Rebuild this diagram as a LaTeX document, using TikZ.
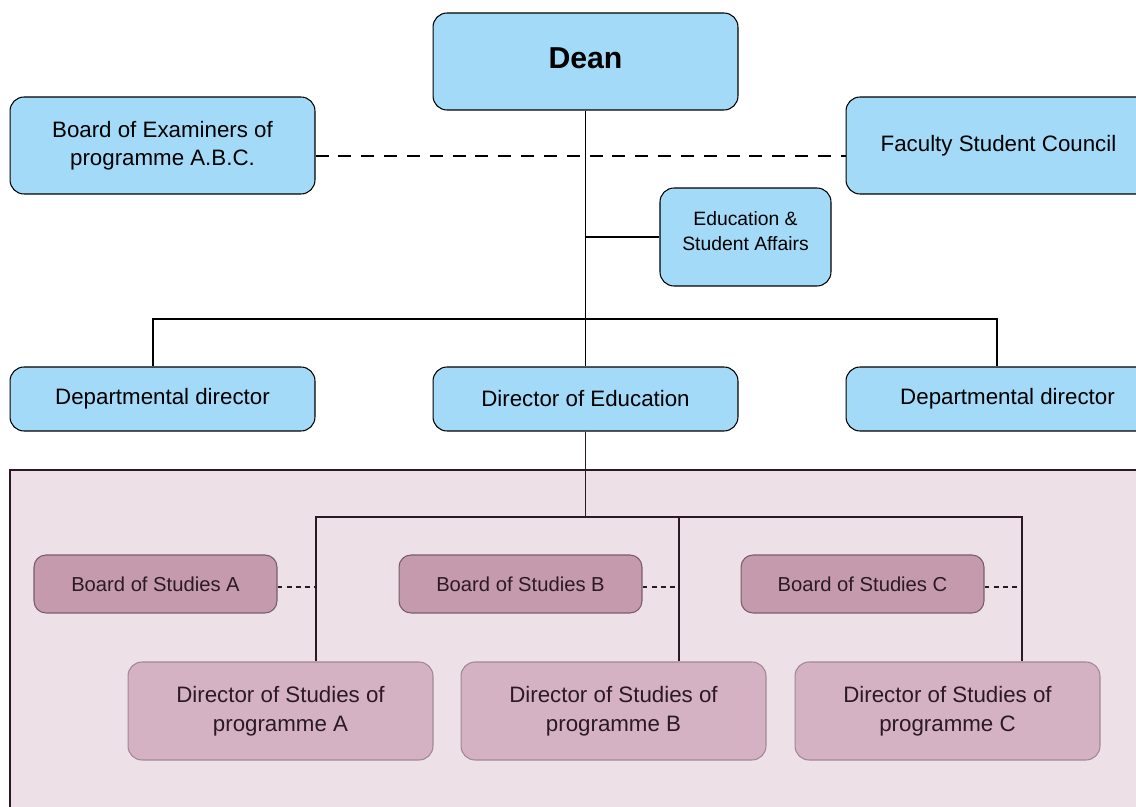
\documentclass[tikz,border=0pt]{standalone}
\usepackage{fontspec}
\setmainfont{Liberation Sans}
\usepackage{tikz}
\usetikzlibrary{positioning, calc}
\definecolor{boxblue}{RGB}{163,218,247}
\definecolor{areapink}{RGB}{238,224,231}
\definecolor{boardmauve}{RGB}{197,154,172}
\definecolor{dirmauve}{RGB}{212,177,195}
\definecolor{inkdark}{RGB}{43,26,36}
\definecolor{dirline}{RGB}{160,136,148}
\definecolor{boardline}{RGB}{120,92,106}

\begin{document}
\begin{tikzpicture}[x=0.02cm, y=-0.02cm, line width=0.6pt,
  every node/.style={align=center},
  bluebox/.style={draw, fill=boxblue, rounded corners=0.28cm, minimum width=6.1cm, minimum height=1.94cm,
    font=\fontsize{12.7}{16}\selectfont},
  boardbox/.style={draw=boardline, fill=boardmauve, rounded corners=0.24cm, minimum width=4.86cm, minimum height=1.16cm,
    text=inkdark, font=\fontsize{11.5}{14}\selectfont},
  dirbox/.style={draw=dirline, fill=dirmauve, rounded corners=0.28cm, minimum width=6.1cm, minimum height=1.96cm,
    text=inkdark, font=\fontsize{12.7}{16.5}\selectfont},
  longdash/.style={dash pattern=on 7.4pt off 5.6pt},
  shortdash/.style={dash pattern=on 2.8pt off 2.4pt}]
  \useasboundingbox (0,0) rectangle (1136,807);
  \clip (0,0) rectangle (1136,807);

  % programme area
  \draw[fill=areapink, draw=inkdark] (10,470) rectangle (1180,850);

  % faculty level
  \node[bluebox, text depth=0.12cm, font=\fontsize{17.2}{20}\selectfont\bfseries] (dean) at (585.5,61.5) {Dean};
  \node[bluebox] (boe) at (162.5,145.5) {Board of Examiners of\\programme A.B.C.};
  \node[bluebox] (fsc) at (998.5,145.5) {Faculty Student Council};
  \node[bluebox, minimum width=3.42cm, minimum height=1.96cm, text depth=0.24cm, font=\fontsize{11}{14}\selectfont]
    (esa) at (745.5,237) {Education \&\\Student Affairs};
  \node[bluebox, minimum height=1.28cm] (ddl) at (162.5,399) {Departmental director};
  \node[bluebox, minimum height=1.28cm] (doe) at (585.5,399) {Director of Education};
  \node[bluebox, minimum width=6.46cm, minimum height=1.28cm] (ddr) at (1007.5,399) {Departmental director};

  % programme level
  \node[boardbox] (bsA) at (155.5,584) {Board of Studies A};
  \node[boardbox] (bsB) at (520.5,584) {Board of Studies B};
  \node[boardbox] (bsC) at (862.5,584) {Board of Studies C};
  \node[dirbox] (dsA) at (280.5,711) {Director of Studies of\\programme A};
  \node[dirbox] (dsB) at (613.5,711) {Director of Studies of\\programme B};
  \node[dirbox] (dsC) at (947.5,711) {Director of Studies of\\programme C};

  \coordinate (hubL) at (153,319);
  \coordinate (hubR) at (997,319);
  \coordinate (bus) at (585.5,517);
  \coordinate (busA) at (316,517);
  \coordinate (busB) at (679,517);
  \coordinate (busC) at (1022,517);

  \draw[longdash] ([yshift=-0.21cm]boe.east) -- ([yshift=-0.21cm]fsc.west);
  \draw (dean) -- (doe);
  \draw (dean.south |- esa.west) -- (esa.west);
  \draw (hubL |- ddl.north) -- (hubL) -- (hubR) -- (hubR |- ddr.north);

  \draw[inkdark] (doe) -- (bus);
  \draw[inkdark] (busA |- dsA.north) -- (busA) -- (busC) -- (busC |- dsC.north);
  \draw[inkdark] (busB) -- (busB |- dsB.north);
  \draw[inkdark, shortdash] ([yshift=-0.06cm]bsA.east) -- ([yshift=-0.06cm]bsA.east -| busA);
  \draw[inkdark, shortdash] ([yshift=-0.06cm]bsB.east) -- ([yshift=-0.06cm]bsB.east -| busB);
  \draw[inkdark, shortdash] ([yshift=-0.06cm]bsC.east) -- ([yshift=-0.06cm]bsC.east -| busC);
\end{tikzpicture}
\end{document}
